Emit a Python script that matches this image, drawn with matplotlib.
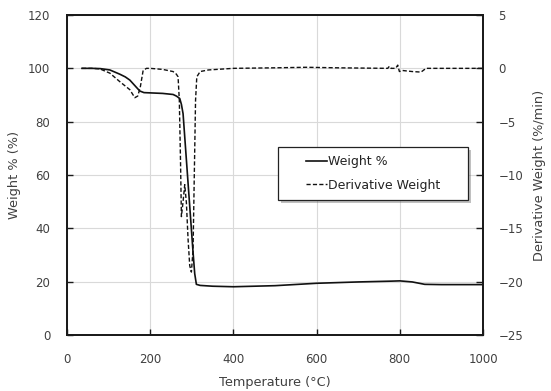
# TGA curve: weight % and derivative weight vs temperature
import matplotlib.pyplot as plt
import matplotlib.patches as mpatches
import matplotlib.patheffects as pe

# X axis (temperature, deg C) and weight % (left axis)
temp_w = [36, 60, 80, 103, 127, 140, 151, 165, 175, 185, 200, 230, 255, 263,
          271, 275, 279, 285, 291, 297, 303, 307, 311, 320, 350, 400, 500,
          600, 700, 780, 800, 830, 860, 900, 1000]
weight = [100, 100, 99.9, 99.4, 97.8, 96.8, 95.6, 93.2, 91.5, 90.9, 90.8,
          90.6, 90.2, 89.6, 88.7, 86.5, 83, 70, 57, 44, 31, 23, 19, 18.6,
          18.3, 18.1, 18.5, 19.4, 19.9, 20.2, 20.3, 19.9, 19.0, 18.9, 18.9]

# derivative weight (right axis, %/min)
temp_d = [36, 60, 79, 103, 127, 151, 163, 170, 176, 183, 191, 200, 230, 255,
          263, 267, 270, 273, 275, 279, 283, 287, 291, 295, 299, 303, 306,
          309, 312, 320, 340, 400, 500, 575, 650, 771, 775, 779, 790, 795,
          799, 806, 830, 851, 863, 900, 1000]
deriv = [0, 0, -0.05, -0.45, -1.25, -2.0, -2.75, -2.6, -1.8, -0.2, 0, 0,
         -0.1, -0.3, -0.55, -0.8, -3, -9, -13.9, -12.5, -10.9, -12.6, -16,
         -18.5, -19.1, -17, -10, -3, -0.8, -0.3, -0.15, 0, 0.05, 0.1, 0.05,
         0, 0.2, 0, 0, 0.3, -0.3, -0.2, -0.3, -0.35, 0, 0, 0]

x_ticks = [0, 200, 400, 600, 800, 1000]
w_ticks = [0, 20, 40, 60, 80, 100, 120]
d_ticks = [-25, -20, -15, -10, -5, 0, 5]

plt.rcParams['font.family'] = ['DejaVu Sans']
plt.rcParams['font.size'] = 8.5
txt = '#404040'

fig = plt.figure(figsize=(5.51, 3.91), dpi=100)
ax = fig.add_axes([0.1216, 0.1432, 0.7550, 0.8184])
ax2 = ax.twinx()

l1, = ax.plot(temp_w, weight, color='#111111', lw=1.2, label='Weight %')
l2, = ax2.plot(temp_d, deriv, color='#111111', lw=1.0,
               linestyle=(0, (3, 1.6)), label='Derivative Weight')

ax.set_xlim(0, 1000)
ax.set_ylim(0, 120)
ax2.set_ylim(-25, 5)
ax.set_xticks(x_ticks)
ax.set_yticks(w_ticks)
ax2.set_yticks(d_ticks)

ax.grid(True, color='#d9d9d9', lw=0.8)
ax.set_axisbelow(True)

for a in (ax, ax2):
    for s in a.spines.values():
        s.set_linewidth(1.3)
        s.set_color('#1a1a1a')
ax.tick_params(direction='in', length=4, width=1, colors='#1a1a1a',
               labelcolor=txt, pad=12)
ax.tick_params(axis='x', pad=13)
ax2.tick_params(direction='in', length=5, width=1, colors='#1a1a1a',
                labelcolor=txt, pad=11)

ax.set_xlabel('Temperature (\u00b0C)', color=txt, labelpad=7, fontsize=9.3)
ax.set_ylabel('Weight % (%)', color=txt, labelpad=5, fontsize=9.3)
ax2.set_ylabel('Derivative Weight (%/min)', color=txt, labelpad=7,
               fontsize=9.3)

# legend box with shadow, entries centred inside
box = mpatches.Rectangle((0.507, 0.422), 0.457, 0.166, transform=ax2.transAxes,
                         facecolor='white', edgecolor='#222222', lw=0.9,
                         zorder=5)
box.set_path_effects([pe.SimplePatchShadow(offset=(2, -2), alpha=0.35),
                      pe.Normal()])
ax2.add_patch(box)
leg = ax2.legend(handles=[l1, l2], loc='center',
                 bbox_to_anchor=(0.507 + 0.457 / 2, 0.422 + 0.166 / 2),
                 frameon=False, handlelength=1.7, handletextpad=0.1,
                 labelspacing=0.85, fontsize=9)
leg.set_zorder(6)
for t in leg.get_texts():
    t.set_color('#222222')

plt.savefig('out.png', dpi=100)
